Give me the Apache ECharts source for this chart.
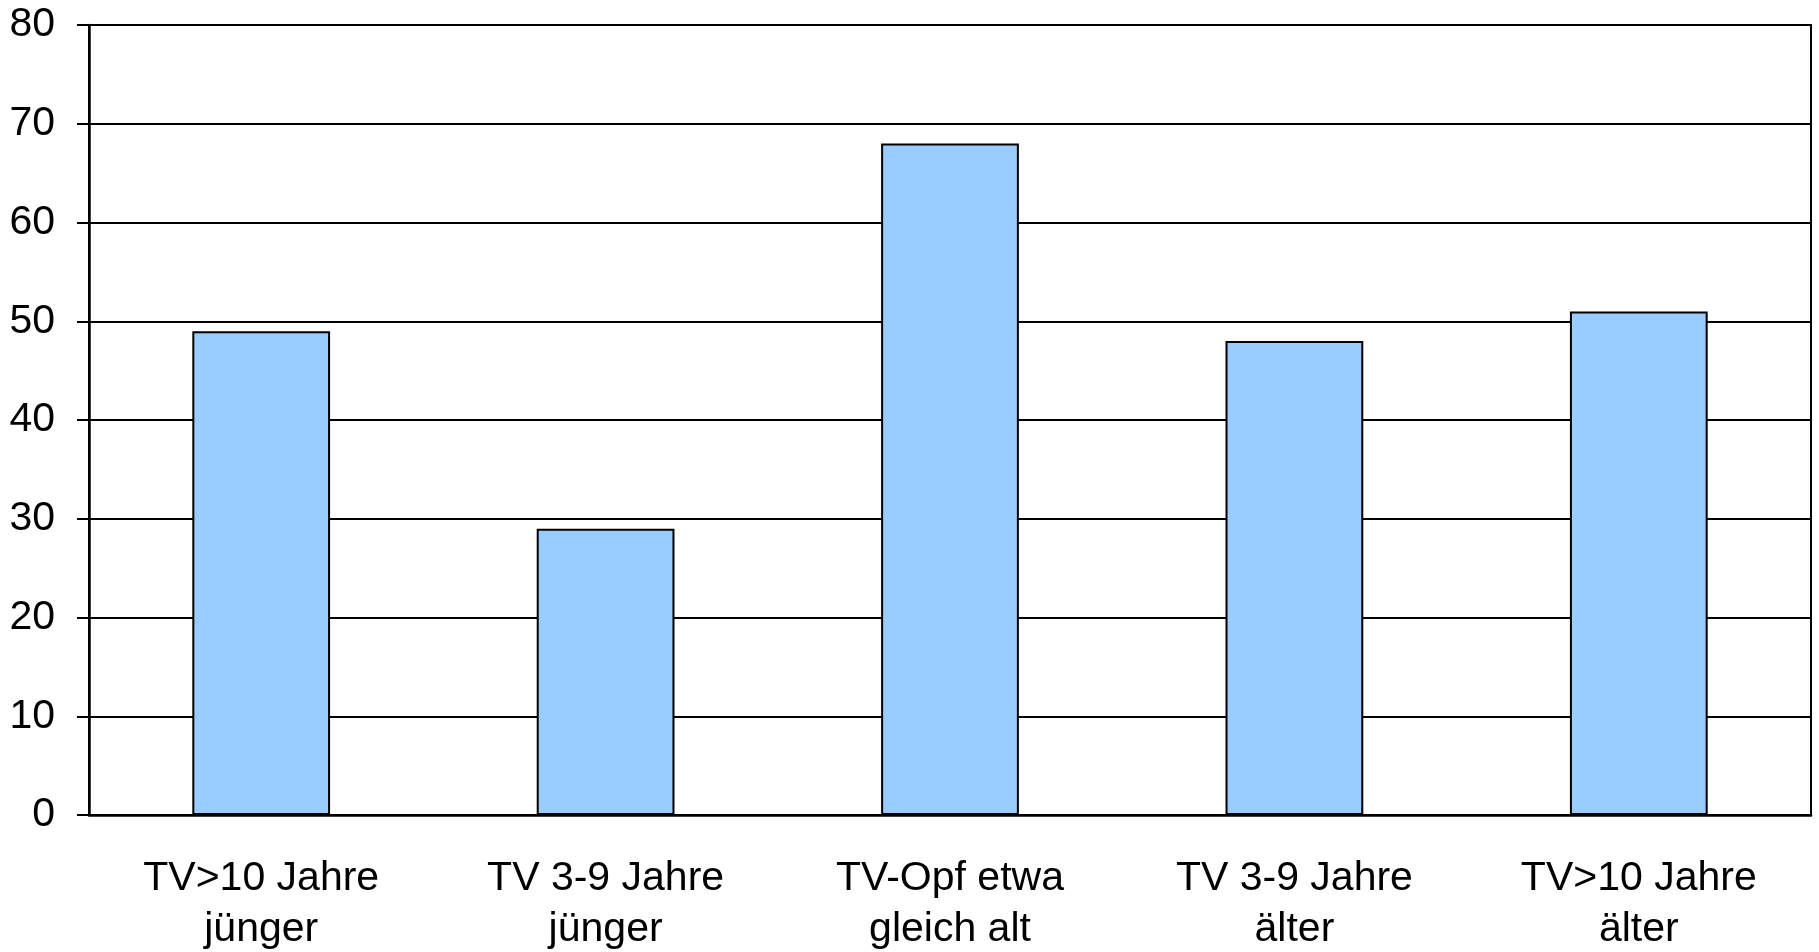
<!DOCTYPE html>
<html>
<head>
<meta charset="utf-8">
<script src="https://cdn.jsdelivr.net/npm/echarts@6/dist/echarts.min.js"></script>
<style>
  html, body { margin: 0; padding: 0; background: #fff; }
  #chart { width: 1819px; height: 952px; }
</style>
</head>
<body>
<div id="chart"></div>
<script>
const categories = [
  'TV>10 Jahre\njünger',
  'TV 3-9 Jahre\njünger',
  'TV-Opf etwa\ngleich alt',
  'TV 3-9 Jahre\nälter',
  'TV>10 Jahre\nälter'
]
const values = [49, 29, 68, 48, 51]

const font = 'Liberation Sans, Arial, sans-serif'
const chart = echarts.init(document.getElementById('chart'))

chart.setOption({
  animation: false,
  backgroundColor: '#fff',
  grid: {
    left: 89, right: 8, top: 25, bottom: 137,
    outerBoundsMode: 'none',
    show: true, borderColor: '#000', borderWidth: 2
  },
  xAxis: {
    type: 'category',
    data: categories,
    axisLine: { lineStyle: { color: '#000', width: 2.5 } },
    axisTick: { length: 13, lineStyle: { color: '#000', width: 2 } },
    axisLabel: {
      color: '#000', fontFamily: font, fontSize: 41,
      lineHeight: 51, margin: 38, interval: 0
    }
  },
  yAxis: {
    type: 'value',
    min: 0, max: 80, interval: 10,
    axisLine: { show: true, lineStyle: { color: '#000', width: 2.5 } },
    axisTick: { show: true, length: 12, lineStyle: { color: '#000', width: 2 } },
    axisLabel: { color: '#000', fontFamily: font, fontSize: 41, margin: 34 },
    splitLine: { lineStyle: { color: '#000', width: 2 } }
  },
  series: [{
    type: 'bar',
    data: values,
    barWidth: '40%',
    itemStyle: { color: '#99CCFF', borderColor: '#000', borderWidth: 2 }
  }]
})
</script>
</body>
</html>
